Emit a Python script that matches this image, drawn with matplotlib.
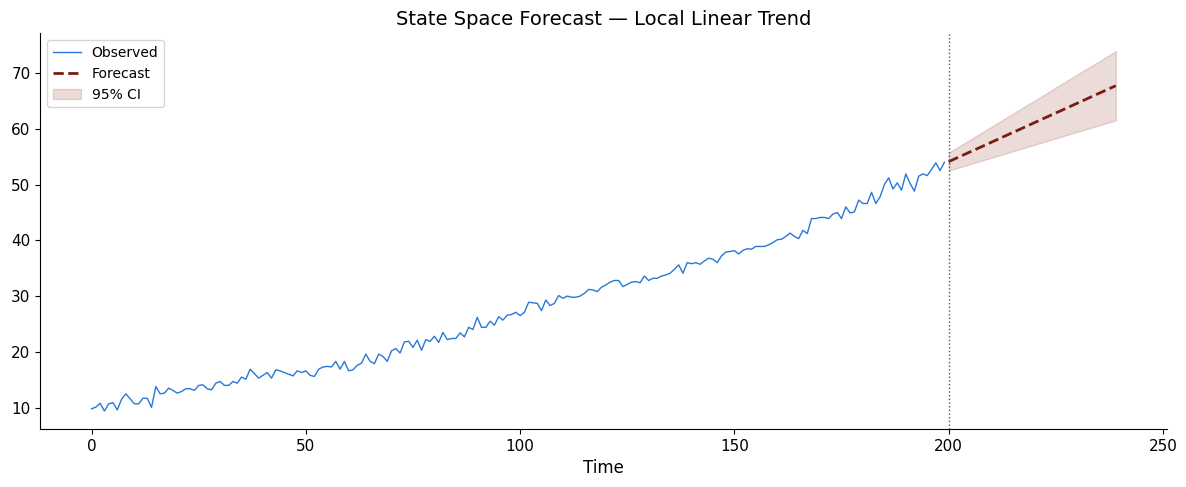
import numpy as np
import matplotlib
matplotlib.use("Agg")
import matplotlib.pyplot as plt

# observed series, t = 0..199
observed = [
    9.8, 10.1, 10.8, 9.4, 10.7, 10.9, 9.6, 11.5, 12.5, 11.6,
    10.7, 10.7, 11.7, 11.7, 10.05, 13.8, 12.5, 12.6, 13.5, 13.1,
    12.6, 12.9, 13.4, 13.4, 13.1, 14.0, 14.1, 13.4, 13.2, 14.4,
    14.7, 14.0, 14.0, 14.7, 14.4, 15.5, 15.1, 16.9, 16.1, 15.3,
    15.8, 16.3, 15.3, 16.8, 16.6, 16.3, 16.0, 15.7, 16.6, 16.3,
    16.6, 15.8, 15.6, 16.9, 17.3, 17.4, 17.3, 18.3, 16.9, 18.3,
    16.6, 16.8, 17.6, 18.0, 19.6, 18.3, 17.9, 19.6, 19.2, 18.3,
    20.2, 20.6, 19.8, 21.8, 21.9, 20.8, 22.1, 20.3, 22.2, 21.9,
    22.8, 21.7, 23.5, 22.2, 22.4, 22.4, 23.4, 22.7, 24.4, 24.0,
    26.2, 24.4, 24.4, 25.5, 24.8, 26.3, 25.7, 26.6, 26.7, 27.1,
    26.5, 27.1, 28.9, 28.8, 28.7, 27.4, 29.3, 28.3, 28.7, 30.1,
    29.6, 30.0, 29.8, 29.8, 30.0, 30.5, 31.2, 31.1, 30.8, 31.6,
    32.0, 32.5, 32.8, 32.8, 31.7, 32.1, 32.5, 32.6, 32.4, 33.6,
    32.8, 33.2, 33.2, 33.6, 33.8, 34.1, 34.8, 35.6, 34.1, 36.0,
    35.8, 36.0, 35.7, 36.3, 36.8, 36.6, 36.0, 37.2, 37.9, 38.0,
    38.15, 37.55, 38.2, 38.5, 38.4, 38.9, 38.9, 38.9, 39.2, 39.6,
    40.1, 40.2, 40.7, 41.3, 40.7, 40.3, 41.8, 41.2, 43.9, 43.9,
    44.1, 44.1, 43.9, 44.7, 45.0, 43.9, 46.0, 44.9, 45.1, 47.2,
    46.6, 46.6, 48.6, 46.6, 47.8, 50.0, 51.2, 49.2, 50.3, 49.0,
    51.9, 50.2, 48.8, 51.5, 51.9, 51.6, 52.7, 53.9, 52.5, 54.0,
]

# forecast horizon t = 200..239
forecast = [
    54.10, 54.45, 54.80, 55.15, 55.50, 55.85, 56.19, 56.54, 56.89, 57.24,
    57.59, 57.94, 58.29, 58.64, 58.99, 59.34, 59.68, 60.03, 60.38, 60.73,
    61.08, 61.43, 61.78, 62.13, 62.48, 62.83, 63.17, 63.52, 63.87, 64.22,
    64.57, 64.92, 65.27, 65.62, 65.97, 66.32, 66.66, 67.01, 67.36, 67.71,
]
ci_lower = [
    52.50, 52.73, 52.96, 53.19, 53.42, 53.66, 53.89, 54.12, 54.35, 54.58,
    54.81, 55.04, 55.27, 55.50, 55.74, 55.97, 56.20, 56.43, 56.66, 56.89,
    57.12, 57.35, 57.58, 57.82, 58.05, 58.28, 58.51, 58.74, 58.97, 59.20,
    59.43, 59.66, 59.90, 60.13, 60.36, 60.59, 60.82, 61.05, 61.28, 61.51,
]
ci_upper = [
    55.70, 56.17, 56.63, 57.10, 57.57, 58.03, 58.50, 58.97, 59.44, 59.90,
    60.37, 60.84, 61.30, 61.77, 62.24, 62.70, 63.17, 63.64, 64.10, 64.57,
    65.04, 65.50, 65.97, 66.44, 66.91, 67.37, 67.84, 68.31, 68.77, 69.24,
    69.71, 70.17, 70.64, 71.11, 71.57, 72.04, 72.51, 72.98, 73.44, 73.91,
]

t_obs = np.arange(len(observed))
t_fc = np.arange(len(observed), len(observed) + len(forecast))

fig, ax = plt.subplots(figsize=(11.86, 4.87), dpi=100)

ax.plot(t_obs, observed, color="#2878d8", lw=1.0, label="Observed")
ax.plot(t_fc, forecast, color="#7a1c14", lw=2.0, ls="--", label="Forecast")
ax.fill_between(t_fc, ci_lower, ci_upper, color="#8b2a22", alpha=0.17,
                label="95% CI")
ax.axvline(len(observed), color="#555555", lw=1.0, ls=":")

ax.spines["top"].set_visible(False)
ax.spines["right"].set_visible(False)
ax.tick_params(labelsize=11)
ax.set_xlabel("Time", fontsize=12)
ax.set_title("State Space Forecast \u2014 Local Linear Trend", fontsize=14)
ax.legend(loc="upper left", fontsize=10)

fig.subplots_adjust(left=0.034, right=0.984, top=0.932, bottom=0.119)
fig.savefig("out.png", dpi=100)
